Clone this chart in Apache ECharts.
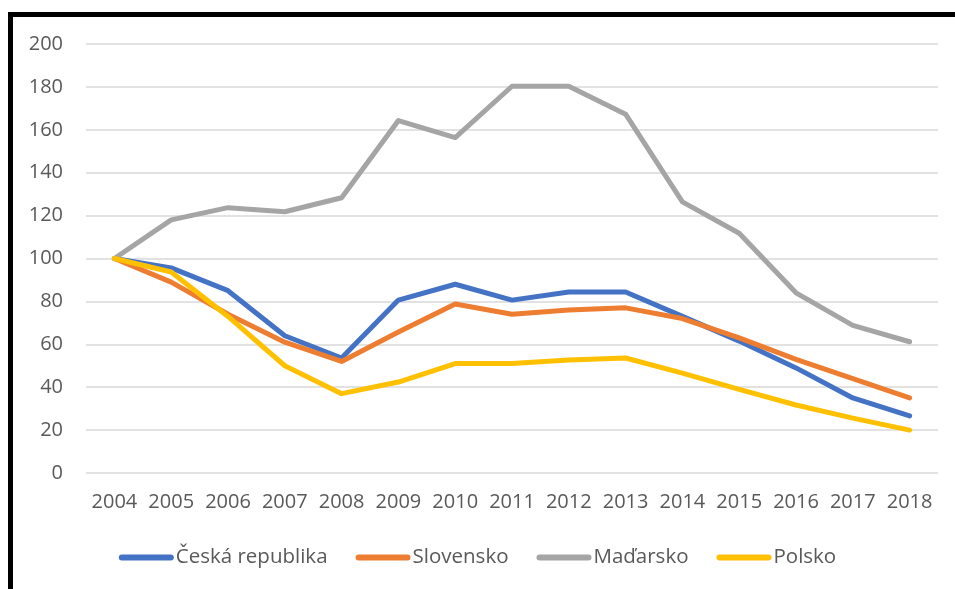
<!DOCTYPE html>
<html><head><meta charset="utf-8">
<script src="https://cdn.jsdelivr.net/npm/echarts@6/dist/echarts.min.js"></script>
<style>html,body{margin:0;padding:0;background:#fff}#c{width:955px;height:589px}</style>
</head><body><div id="c"></div>
<script>
const years = ['2004','2005','2006','2007','2008','2009','2010','2011','2012','2013','2014','2015','2016','2017','2018'];
const cesko = [100, 95.6, 85, 64, 53.6, 80.6, 88, 80.6, 84.4, 84.4, 73, 61.5, 49, 35, 26.6];
const slovensko = [100, 89, 74, 61, 52, 65.7, 78.8, 74, 76, 77, 72, 63, 53, 44, 35];
const madarsko = [100, 118, 123.7, 121.8, 128.3, 164.3, 156.4, 180.3, 180.3, 167.3, 126.4, 111.8, 84, 68.8, 61.2];
const polsko = [100, 93.7, 73, 50, 37, 42.4, 51, 51, 52.7, 53.6, 46.6, 39, 31.7, 25.6, 20];
const names = ['Česká republika', 'Slovensko', 'Maďarsko', 'Polsko'];
const colors = ['#4472C4', '#ED7D31', '#A5A5A5', '#FFC000'];
const yTicks = {min: 0, max: 200, step: 20};

const font = '"Open Sans", sans-serif';
const chart = echarts.init(document.getElementById('c'), null, {renderer: 'canvas'});
const data = [cesko, slovensko, madarsko, polsko];
chart.setOption({
  animation: false,
  backgroundColor: '#fff',
  grid: {left: 86, right: 17, top: 44, bottom: 116},
  xAxis: {
    type: 'category', data: years, boundaryGap: true,
    axisLine: {show: false}, axisTick: {show: false},
    axisLabel: {color: '#595959', fontSize: 20, fontFamily: font, margin: 19, interval: 0}
  },
  yAxis: {
    type: 'value', min: yTicks.min, max: yTicks.max, interval: yTicks.step,
    axisLine: {show: false}, axisTick: {show: false},
    axisLabel: {color: '#595959', fontSize: 20, fontFamily: font, margin: 23},
    splitLine: {lineStyle: {color: '#D9D9D9', width: 1.5}}
  },
  legend: {
    bottom: 16, left: 'center', itemWidth: 55, itemHeight: 6, itemGap: 28,
    icon: 'path://M3,0 L52,0 A3,3 0 0 1 52,6 L3,6 A3,3 0 0 1 3,0 Z',
    textStyle: {color: '#595959', fontSize: 20.5, fontFamily: font, padding: [0,0,0,-3]},
    data: names
  },
  graphic: [{
    type: 'rect', silent: true, z: 100,
    shape: {x: 10.5, y: 14.5, width: 1200, height: 1000},
    style: {fill: 'none', stroke: '#000', lineWidth: 5}
  }],
  series: names.map((n, i) => ({
    name: n, type: 'line', data: data[i], symbol: 'none', smooth: false,
    color: colors[i],
    lineStyle: {color: colors[i], width: 5, cap: 'round', join: 'round'},
    z: 2 + (i === 3 ? 1 : 0)
  }))
});
</script></body></html>
